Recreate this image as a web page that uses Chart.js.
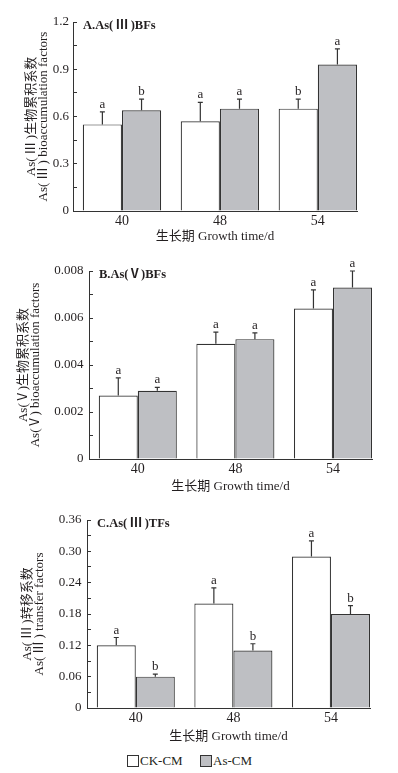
<!DOCTYPE html>
<html>
<head>
<meta charset="utf-8">
<script src="https://cdn.jsdelivr.net/npm/chart.js@4.4.0/dist/chart.umd.min.js"></script>
<style>
  body { margin: 0; background: #fff; width: 398px; height: 773px; position: relative; overflow: hidden;
         font-family: 'Liberation Serif', 'Noto Sans CJK SC', serif; color: #231f20; }
  .panel { position: absolute; left: 0; width: 398px; height: 250px; }
  #legend { position: absolute; top: 754px; left: 0; width: 398px; height: 16px; font-size: 13px; }
  .key { position: absolute; top: 0; display: flex; align-items: center; height: 14px; }
  .sw { width: 10px; height: 10px; border: 1px solid #333; margin-right: 1px; }
</style>
</head>
<body>
<div class="panel" style="top:0"><canvas id="chartA"></canvas></div>
<div class="panel" style="top:250px"><canvas id="chartB"></canvas></div>
<div class="panel" style="top:500px"><canvas id="chartC"></canvas></div>
<div id="legend"></div>
<script>
const categories = ['40', '48', '54'];
const seriesNames = ['CK-CM', 'As-CM'];
const seriesColors = ['#ffffff', '#bebfc3'];
const xTitle = '生长期 Growth time/d';

// A. As(III) bioaccumulation factors
const ckA = [0.55, 0.57, 0.65];
const asA = [0.64, 0.65, 0.93];
const errCkA = [0.08, 0.12, 0.06];
const errAsA = [0.07, 0.06, 0.10];
const letCkA = ['a', 'a', 'b'];
const letAsA = ['b', 'a', 'a'];
const ticksA = ['0', '0.3', '0.6', '0.9', '1.2'];

// B. As(V) bioaccumulation factors
const ckB = [0.0027, 0.0049, 0.0064];
const asB = [0.0029, 0.0051, 0.0073];
const errCkB = [0.00075, 0.0005, 0.0008];
const errAsB = [0.00015, 0.00027, 0.0007];
const letCkB = ['a', 'a', 'a'];
const letAsB = ['a', 'a', 'a'];
const ticksB = ['0', '0.002', '0.004', '0.006', '0.008'];

// C. As(III) transfer factors
const ckC = [0.12, 0.20, 0.29];
const asC = [0.06, 0.11, 0.18];
const errCkC = [0.015, 0.03, 0.03];
const errAsC = [0.005, 0.013, 0.016];
const letCkC = ['a', 'a', 'a'];
const letAsC = ['b', 'b', 'b'];
const ticksC = ['0', '0.06', '0.12', '0.18', '0.24', '0.30', '0.36'];

const serif = "'Liberation Serif', 'Noto Sans CJK SC', serif";
const ink = '#231f20';
const line = '#333333';

// error bars, significance letters and the panel label
const marks = {
  id: 'marks',
  afterDatasetsDraw(chart, args, opts) {
    const ctx = chart.ctx;
    const y = chart.scales.y;
    ctx.save();
    ctx.strokeStyle = line;
    ctx.lineWidth = 1.2;
    ctx.fillStyle = ink;
    ctx.font = '13px ' + serif;
    ctx.textAlign = 'center';
    ctx.textBaseline = 'alphabetic';
    chart.data.datasets.forEach((ds, di) => {
      chart.getDatasetMeta(di).data.forEach((bar, i) => {
        const top = y.getPixelForValue(ds.data[i].y + ds.err[i]);
        ctx.beginPath();
        ctx.moveTo(bar.x, bar.y);
        ctx.lineTo(bar.x, top);
        ctx.moveTo(bar.x - 2.5, top);
        ctx.lineTo(bar.x + 2.5, top);
        ctx.stroke();
        ctx.fillText(ds.letters[i], bar.x, top - 4);
      });
    });
    ctx.font = 'bold 12.5px ' + serif;
    ctx.textAlign = 'left';
    ctx.textBaseline = 'middle';
    ctx.fillText(opts.title, chart.chartArea.left + 10, chart.chartArea.top + 3.5);
    ctx.restore();
  }
};

function makePanel(id, p) {
  const vals = p.ticks.map(Number);
  const allTicks = [];
  vals.forEach((v, i) => {
    allTicks.push(v);
    if (i < vals.length - 1) allTicks.push((v + vals[i + 1]) / 2);
  });
  const ds = (k, values, err, letters) => ({
    label: seriesNames[k],
    data: values.map((v, i) => ({ x: i, y: v })),
    err: err,
    letters: letters,
    backgroundColor: seriesColors[k],
    borderColor: line,
    borderWidth: 1.2,
    categoryPercentage: 0.8,
    barPercentage: 1.0
  });
  return new Chart(document.getElementById(id), {
    type: 'bar',
    data: {
      datasets: [ds(0, p.ck, p.errCk, p.letCk), ds(1, p.as, p.errAs, p.letAs)]
    },
    options: {
      responsive: true,
      maintainAspectRatio: false,
      animation: false,
      layout: { padding: { top: p.top, right: p.right, left: 0, bottom: 0 } },
      plugins: {
        legend: { display: false },
        tooltip: { enabled: false },
        marks: { title: p.title }
      },
      scales: {
        x: {
          type: 'linear',
          offset: false,
          min: -0.5,
          max: 2.4,
          afterBuildTicks: s => { s.ticks = categories.map((c, i) => ({ value: i })); },
          afterFit: s => { s.height = p.xHeight; },
          ticks: {
            callback: v => categories[v],
            autoSkip: false,
            maxRotation: 0,
            padding: 3,
            color: ink,
            font: { family: serif, size: 14, lineHeight: 1 }
          },
          grid: { display: false, drawTicks: false, offset: false },
          border: { display: true, color: line, width: 1 },
          title: {
            display: true,
            text: xTitle,
            color: ink,
            font: { family: serif, size: 13, lineHeight: 1 },
            padding: { top: 0, bottom: 6.5 }
          }
        },
        y: {
          min: 0,
          max: vals[vals.length - 1],
          afterBuildTicks: s => { s.ticks = allTicks.map(v => ({ value: v })); },
          afterFit: s => { s.width = p.yWidth; },
          ticks: {
            callback: (v, i) => (i % 2 === 0 ? p.ticks[i / 2] : ''),
            autoSkip: false,
            padding: p.labelPad,
            color: ink,
            font: { family: serif, size: 13 }
          },
          grid: { display: true, drawOnChartArea: false, drawTicks: true, tickLength: -4, tickColor: line, tickWidth: 1 },
          border: { display: true, color: line, width: 1 },
          title: {
            display: true,
            text: p.yTitle,
            color: ink,
            font: { family: serif, size: 13, lineHeight: 0.92 },
            padding: { top: p.yTitlePad, bottom: 0 }
          }
        }
      }
    },
    plugins: [marks]
  });
}

makePanel('chartA', {
  title: 'A.As(\u2009Ⅲ\u2009)BFs',
  yTitle: ['As(\u2009Ⅲ\u2009)生物累积系数', 'As(\u2009Ⅲ\u2009) bioaccumulation factors'],
  ticks: ticksA, ck: ckA, as: asA, errCk: errCkA, errAs: errAsA, letCk: letCkA, letAs: letAsA,
  top: 22, right: 41, yWidth: 73, xHeight: 39, yTitlePad: 26, labelPad: 8
});
makePanel('chartB', {
  title: 'B.As(Ⅴ)BFs',
  yTitle: ['As(Ⅴ)生物累积系数', 'As(Ⅴ) bioaccumulation factors'],
  ticks: ticksB, ck: ckB, as: asB, errCk: errCkB, errAs: errAsB, letCk: letCkB, letAs: letAsB,
  top: 21, right: 26, yWidth: 89, xHeight: 41, yTitlePad: 18, labelPad: 9.5
});
makePanel('chartC', {
  title: 'C.As(\u2009Ⅲ\u2009)TFs',
  yTitle: ['As(\u2009Ⅲ\u2009)转移系数', 'As(\u2009Ⅲ\u2009) transfer factors'],
  ticks: ticksC, ck: ckC, as: asC, errCk: errCkC, errAs: errAsC, letCk: letCkC, letAs: letAsC,
  top: 20, right: 28, yWidth: 87, xHeight: 42, yTitlePad: 22, labelPad: 9.5
});

// shared legend under the last panel
const legend = document.getElementById('legend');
const keyLeft = [127, 200];
seriesNames.forEach((name, k) => {
  const key = document.createElement('div');
  key.className = 'key';
  key.style.left = keyLeft[k] + 'px';
  const sw = document.createElement('span');
  sw.className = 'sw';
  sw.style.background = seriesColors[k];
  const txt = document.createElement('span');
  txt.textContent = name;
  key.appendChild(sw);
  key.appendChild(txt);
  legend.appendChild(key);
});
</script>
</body>
</html>
